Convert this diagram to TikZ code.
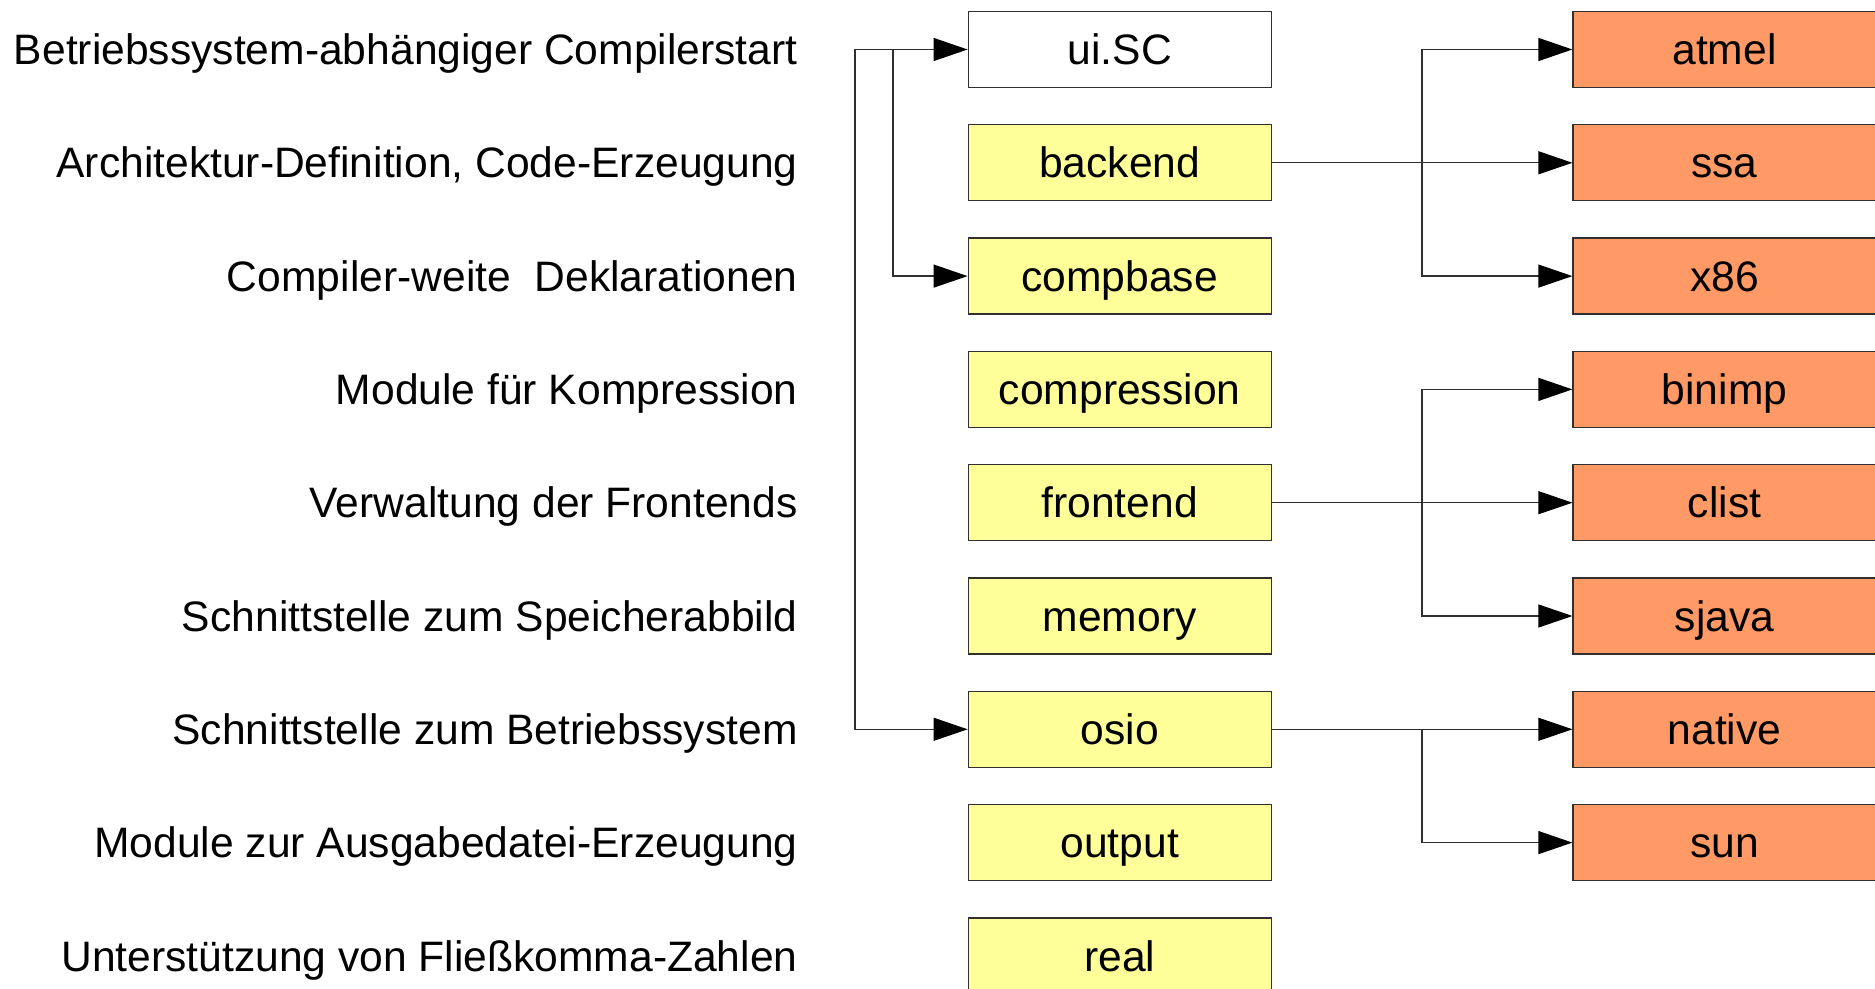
\documentclass[tikz,border=0pt]{standalone}
\usepackage{fontspec}
\setmainfont{Liberation Sans}
\usetikzlibrary{arrows.meta}
\definecolor{boxyellow}{HTML}{FFFF99}
\definecolor{boxorange}{HTML}{FF9966}
\definecolor{edge}{HTML}{303030}
\tikzset{
  lbl/.style={anchor=base east, inner sep=0pt, font=\fontsize{21.3pt}{25pt}\selectfont},
  modbox/.style={draw=edge, line width=0.6pt, minimum width=151.5pt, minimum height=38pt,
     inner sep=0pt, text height=15.2pt, text depth=0pt, font=\fontsize{21.3pt}{25pt}\selectfont},
  whitebox/.style={modbox, fill=white},
  yellowbox/.style={modbox, fill=boxyellow},
  orangebox/.style={modbox, fill=boxorange},
  conn/.style={draw=edge, line width=0.6pt},
  arr/.style={conn, -{Triangle[length=17pt,width=11.5pt,color=black,fill=black]}}
}
\begin{document}
\begin{tikzpicture}[x=0.5pt,y=-0.5pt]
\useasboundingbox (0,0) rectangle (1875,989);
\clip (0,0) rectangle (1875,989);
% left labels
\node[lbl] (l0) at (798, 64.7) {Betriebssystem-abhängiger Compilerstart};
\node[lbl] (l1) at (798,178.0) {Architektur-Definition, Code-Erzeugung};
\node[lbl] (l2) at (798,291.3) {Compiler-weite\ \ Deklarationen};
\node[lbl] (l3) at (798,404.6) {Module für Kompression};
\node[lbl] (l4) at (798,517.9) {Verwaltung der Frontends};
\node[lbl] (l5) at (798,631.2) {Schnittstelle zum Speicherabbild};
\node[lbl] (l6) at (798,744.5) {Schnittstelle zum Betriebssystem};
\node[lbl] (l7) at (798,857.8) {Module zur Ausgabedatei-Erzeugung};
\node[lbl] (l8) at (798,971.1) {Unterstützung von Fließkomma-Zahlen};
% middle boxes
\node[whitebox]  (b0) at (1119.7, 49.5) {ui.SC};
\node[yellowbox] (b1) at (1119.7,162.8) {backend};
\node[yellowbox] (b2) at (1119.7,276.1) {compbase};
\node[yellowbox] (b3) at (1119.7,389.4) {compression};
\node[yellowbox] (b4) at (1119.7,502.7) {frontend};
\node[yellowbox] (b5) at (1119.7,616.0) {memory};
\node[yellowbox] (b6) at (1119.7,729.3) {osio};
\node[yellowbox] (b7) at (1119.7,842.6) {output};
\node[yellowbox] (b8) at (1119.7,955.9) {real};
% right boxes
\node[orangebox] (r0) at (1724.5, 49.5) {atmel};
\node[orangebox] (r1) at (1724.5,162.8) {ssa};
\node[orangebox] (r2) at (1724.5,276.1) {x86};
\node[orangebox] (r3) at (1724.5,389.4) {binimp};
\node[orangebox] (r4) at (1724.5,502.7) {clist};
\node[orangebox] (r5) at (1724.5,616.0) {sjava};
\node[orangebox] (r6) at (1724.5,729.3) {native};
\node[orangebox] (r7) at (1724.5,842.6) {sun};
% junction coordinates
\coordinate (ka) at (855, 49.5);
\coordinate (kb) at (893, 49.5);
\coordinate (k1) at (1422,162.8);
\coordinate (k4) at (1422,502.7);
\coordinate (k6) at (1422,729.3);
% left connectors
\draw[arr] (ka) -- (b0.west);
\draw[arr] (ka) |- (b6.west);
\draw[arr] (kb) |- (b2.west);
% backend
\draw[conn] (b1.east) -- (k1);
\draw[arr] (k1) |- (r0.west);
\draw[arr] (k1) -- (r1.west);
\draw[arr] (k1) |- (r2.west);
% frontend
\draw[conn] (b4.east) -- (k4);
\draw[arr] (k4) |- (r3.west);
\draw[arr] (k4) -- (r4.west);
\draw[arr] (k4) |- (r5.west);
% osio
\draw[conn] (b6.east) -- (k6);
\draw[arr] (k6) -- (r6.west);
\draw[arr] (k6) |- (r7.west);
\end{tikzpicture}
\end{document}
